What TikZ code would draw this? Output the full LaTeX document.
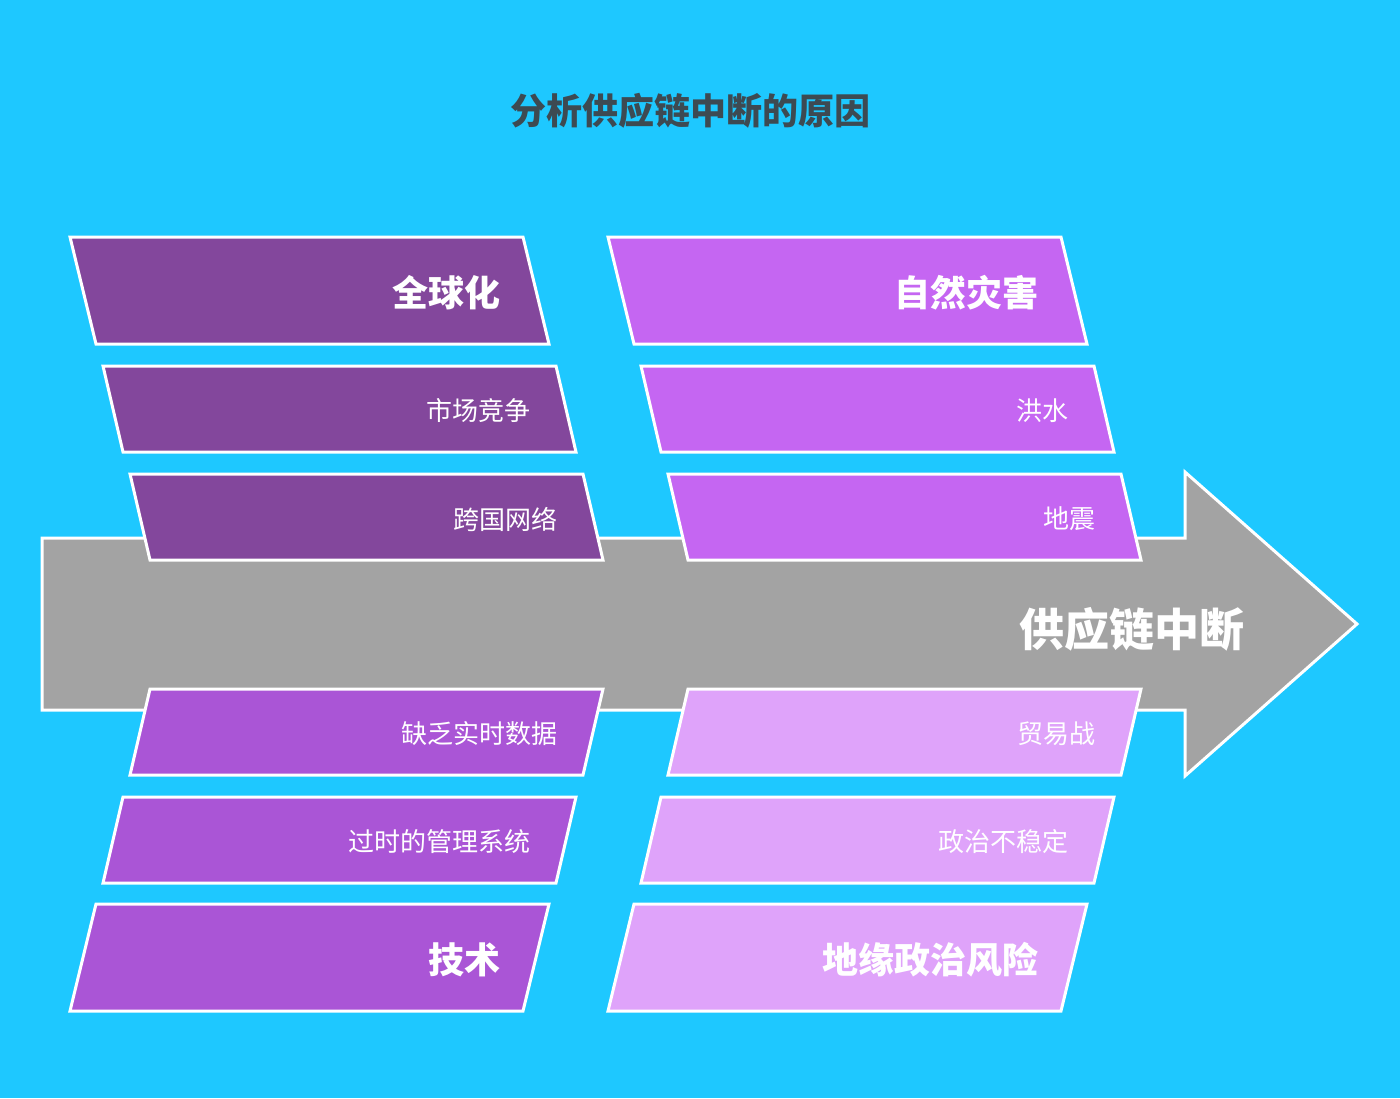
\documentclass[tikz,border=0pt]{standalone}
\usepackage{fontspec}
\setmainfont{Noto Sans CJK SC}
\definecolor{skyblue}{HTML}{1EC8FF}
\definecolor{darkplum}{HTML}{83479C}
\definecolor{brightlilac}{HTML}{C566F2}
\definecolor{midviolet}{HTML}{AA55D6}
\definecolor{palelilac}{HTML}{DFA3FA}
\definecolor{arrowgray}{HTML}{A3A3A3}
\definecolor{titlegray}{HTML}{3D4A52}

% one slanted cause box: name, x, y, height, slant, fill, text, text style
\newcommand{\cause}[8]{%
  \draw[band, fill=#6] (#2,#3) -- ++(453,0) -- ++(#5,#4) -- ++(-453,0) -- cycle;
  \node[#8] (#1) at ({#2+453+0.5*(#5)-35},{#3+0.5*(#4)+2}) {#7};
}

\begin{document}
\begin{tikzpicture}[x=1pt, y=-1pt,
    band/.style={draw=white, line width=3pt, line join=miter},
    head/.style={anchor=east, inner sep=0pt, text=white, font=\fontsize{36}{40}\selectfont\bfseries},
    item/.style={anchor=east, inner sep=0pt, text=white, font=\fontsize{26}{30}\selectfont}]
    \fill[skyblue] (0,0) rectangle (1400,1098);
    \useasboundingbox (0,0) rectangle (1400,1098);

    \node[text=titlegray, font=\fontsize{36}{40}\selectfont\bfseries] (title) at (690,111) {分析供应链中断的原因};

    % the spine
    \draw[band, fill=arrowgray] (42,538) -- (1185,538) -- (1185,472) -- (1357,624)
        -- (1185,776) -- (1185,710) -- (42,710) -- cycle;
    \node[anchor=east, inner sep=0pt, text=white, font=\fontsize{45}{50}\selectfont\bfseries] (disrupt) at (1245,629) {供应链中断};

    % left column
    \cause{glob}{70}{237}{107}{26}{darkplum}{全球化}{head}
    \cause{market}{103}{366}{86}{20}{darkplum}{市场竞争}{item}
    \cause{network}{130}{474}{86}{20}{darkplum}{跨国网络}{item}
    \cause{nodata}{150}{689}{86}{-20}{midviolet}{缺乏实时数据}{item}
    \cause{legacy}{123}{797}{86}{-20}{midviolet}{过时的管理系统}{item}
    \cause{tech}{96}{904}{107}{-26}{midviolet}{技术}{head}

    % right column
    \cause{disaster}{608}{237}{107}{26}{brightlilac}{自然灾害}{head}
    \cause{flood}{641}{366}{86}{20}{brightlilac}{洪水}{item}
    \cause{quake}{668}{474}{86}{20}{brightlilac}{地震}{item}
    \cause{trade}{688}{689}{86}{-20}{palelilac}{贸易战}{item}
    \cause{unrest}{661}{797}{86}{-20}{palelilac}{政治不稳定}{item}
    \cause{geo}{634}{904}{107}{-26}{palelilac}{地缘政治风险}{head}
\end{tikzpicture}
\end{document}
